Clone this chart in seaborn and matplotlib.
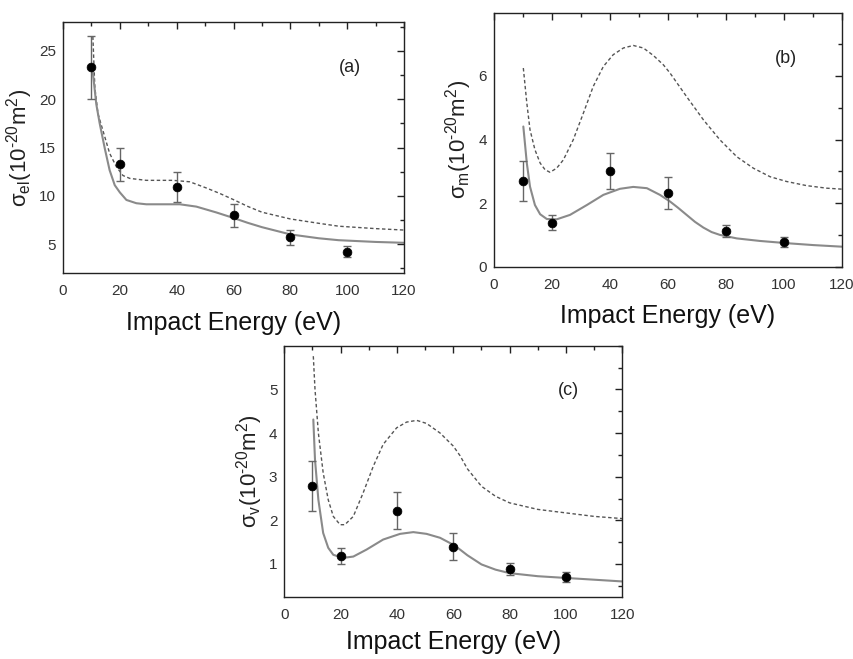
import numpy as np
import pandas as pd
import seaborn as sns
import matplotlib
matplotlib.use("Agg")
import matplotlib.pyplot as plt
from matplotlib.ticker import MultipleLocator

sns.set_theme(style="white")
plt.rcParams['font.family'] = ['Liberation Sans', 'DejaVu Sans']
plt.rcParams['mathtext.fontset'] = 'custom'
plt.rcParams['mathtext.rm'] = 'Liberation Sans'
plt.rcParams['mathtext.it'] = 'Liberation Sans:italic'

# ---------------- data ----------------
pts_x = [10, 20, 40, 60, 80, 100]

a_y = [23.3, 13.25, 10.95, 8.0, 5.72, 4.18]
a_err = [3.3, 1.7, 1.55, 1.2, 0.77, 0.57]
a_solid_x = [10.3, 11.7, 12.9, 14.7, 16.4, 18.2, 20, 22.3, 25.8, 29.3, 35.2, 41.1, 46.9, 54, 60, 65, 70, 80, 90, 97, 110, 120]
a_solid_y = [23.3, 19.5, 17.5, 14.9, 12.65, 11.1, 10.35, 9.57, 9.23, 9.12, 9.12, 9.12, 8.88, 8.27, 7.7, 7.2, 6.75, 6.0, 5.6, 5.4, 5.22, 5.13]
a_dash_x = [10.5, 11.2, 12.3, 14.7, 16.4, 18.8, 21.1, 23.5, 29.3, 38.7, 44.6, 50.5, 55.1, 60, 65, 70, 80, 90, 97, 110, 120]
a_dash_y = [26.5, 21.2, 18.5, 16.1, 14.4, 13.0, 12.1, 11.8, 11.6, 11.6, 11.45, 10.8, 10.25, 9.6, 8.9, 8.3, 7.6, 7.15, 6.85, 6.6, 6.45]

b_y = [2.71, 1.39, 3.01, 2.32, 1.12, 0.77]
b_err = [0.63, 0.24, 0.58, 0.49, 0.19, 0.15]
b_solid_x = [10.1, 11.3, 12.4, 14.1, 15.9, 18.2, 21.6, 26.2, 32, 37.7, 43.4, 48, 52.7, 57.2, 60.7, 63.5, 66.4, 69.3, 72.2, 75, 77.9, 83.7, 91.7, 100.9, 110.1, 119.9]
b_solid_y = [4.41, 3.26, 2.52, 1.94, 1.65, 1.50, 1.49, 1.63, 1.94, 2.26, 2.45, 2.51, 2.47, 2.26, 2.05, 1.85, 1.63, 1.41, 1.23, 1.09, 1.0, 0.89, 0.81, 0.74, 0.68, 0.63]
b_dash_x = [10.1, 11.3, 12.4, 14.1, 15.9, 17.6, 19.3, 21.6, 23.9, 27.3, 30.8, 34.2, 37.7, 41.1, 44.6, 48, 51.5, 55, 58.4, 60.7, 66.4, 72.2, 77.9, 83.7, 89.4, 95.2, 100.9, 107.8, 114.7, 119.9]
b_dash_y = [6.25, 5.15, 4.31, 3.68, 3.26, 3.05, 2.97, 3.10, 3.36, 3.99, 4.83, 5.67, 6.3, 6.67, 6.88, 6.96, 6.88, 6.64, 6.35, 6.09, 5.35, 4.62, 3.99, 3.46, 3.10, 2.83, 2.68, 2.55, 2.47, 2.44]

c_y = [2.78, 1.18, 2.22, 1.40, 0.88, 0.70]
c_err = [0.57, 0.19, 0.43, 0.31, 0.14, 0.12]
c_solid_x = [10.3, 10.9, 12.1, 13.8, 15.6, 17.4, 20.9, 24.5, 29.2, 35.1, 41.1, 45.8, 50.5, 55.3, 60, 62.4, 65, 70, 75, 80, 90, 100, 110, 120]
c_solid_y = [4.31, 3.39, 2.47, 1.71, 1.37, 1.21, 1.14, 1.17, 1.33, 1.56, 1.69, 1.73, 1.69, 1.60, 1.44, 1.33, 1.20, 0.99, 0.87, 0.79, 0.72, 0.68, 0.64, 0.60]
c_dash_x = [10.3, 10.9, 12.1, 13.8, 15.6, 17.4, 19.8, 21.5, 24.5, 28, 31.6, 35.1, 39.9, 43.4, 47, 50.5, 55.3, 60, 62.4, 65, 70, 75, 80, 90, 100, 110, 120]
c_dash_y = [5.76, 5.0, 4.0, 3.09, 2.47, 2.09, 1.90, 1.90, 2.09, 2.63, 3.24, 3.74, 4.12, 4.25, 4.29, 4.22, 4.0, 3.70, 3.48, 3.18, 2.78, 2.55, 2.40, 2.25, 2.17, 2.09, 2.04]

xticks = [0, 20, 40, 60, 80, 100, 120]
xlabel = "Impact Energy (eV)"
ylabels = [r'σ$_{\rm el}$(10$^{\text{-20}}$m$^{\rm 2}$)',
           r'σ$_{\rm m}$(10$^{\text{-20}}$m$^{\rm 2}$)',
           r'σ$_{\rm v}$(10$^{\text{-20}}$m$^{\rm 2}$)']
tags = ["(a)", "(b)", "(c)"]

# ---------------- figure ----------------
fig = plt.figure(figsize=(8.54, 6.59), dpi=100)
axa = fig.add_axes([0.0738, 0.5857, 0.3993, 0.3809])
axb = fig.add_axes([0.5785, 0.5953, 0.4075, 0.3854])
axc = fig.add_axes([0.3329, 0.0945, 0.3958, 0.3809])

panels = [
    (axa, a_y, a_err, a_solid_x, a_solid_y, a_dash_x, a_dash_y, (2, 28), [5, 10, 15, 20, 25], 2.5, 9),
    (axb, b_y, b_err, b_solid_x, b_solid_y, b_dash_x, b_dash_y, (0, 7.99), [0, 2, 4, 6], 1, 9),
    (axc, c_y, c_err, c_solid_x, c_solid_y, c_dash_x, c_dash_y, (0.25, 6.0), [1, 2, 3, 4, 5], 0.5, 6),
]

for i, (ax, py, pe, sx, sy, dx, dy, ylim, yt, ymin, lpad) in enumerate(panels):
    sns.lineplot(x=dx, y=dy, ax=ax, color='#555555', lw=1.0, linestyle=(0, (2.5, 1.8)), sort=False)
    sns.lineplot(x=sx, y=sy, ax=ax, color='#8a8a8a', lw=1.5, sort=False)
    ax.errorbar(pts_x, py, yerr=pe, fmt='none', ecolor='#666666', elinewidth=1.0,
                capsize=3, capthick=1.0, zorder=3)
    sns.scatterplot(x=pts_x, y=py, ax=ax, color='black', s=40, edgecolor='black', zorder=4)
    ax.set_xlim(0, 120)
    ax.set_ylim(*ylim)
    ax.set_xticks(xticks)
    ax.set_yticks(yt)
    ax.xaxis.set_minor_locator(MultipleLocator(10))
    ax.yaxis.set_minor_locator(MultipleLocator(ymin))
    ax.tick_params(which='both', direction='in', top=True, right=True,
                   labelsize=11, labelcolor='#333333', color='#222222', width=1.0)
    ax.tick_params(which='major', length=5)
    ax.tick_params(which='minor', length=3)
    ax.tick_params(axis='x', pad=8)
    ax.tick_params(axis='y', pad=5)
    for sp in ax.spines.values():
        sp.set_color('#222222')
        sp.set_linewidth(1.0)
    ax.set_xlabel(xlabel, fontsize=18, color='#111111', labelpad=lpad)
    ax.set_ylabel(ylabels[i], fontsize=16, color='#222222', labelpad=3)
    ax.text(0.84, 0.82, tags[i], transform=ax.transAxes, fontsize=13,
            ha='center', va='center', color='#222222')

fig.savefig("out.png", dpi=100)
